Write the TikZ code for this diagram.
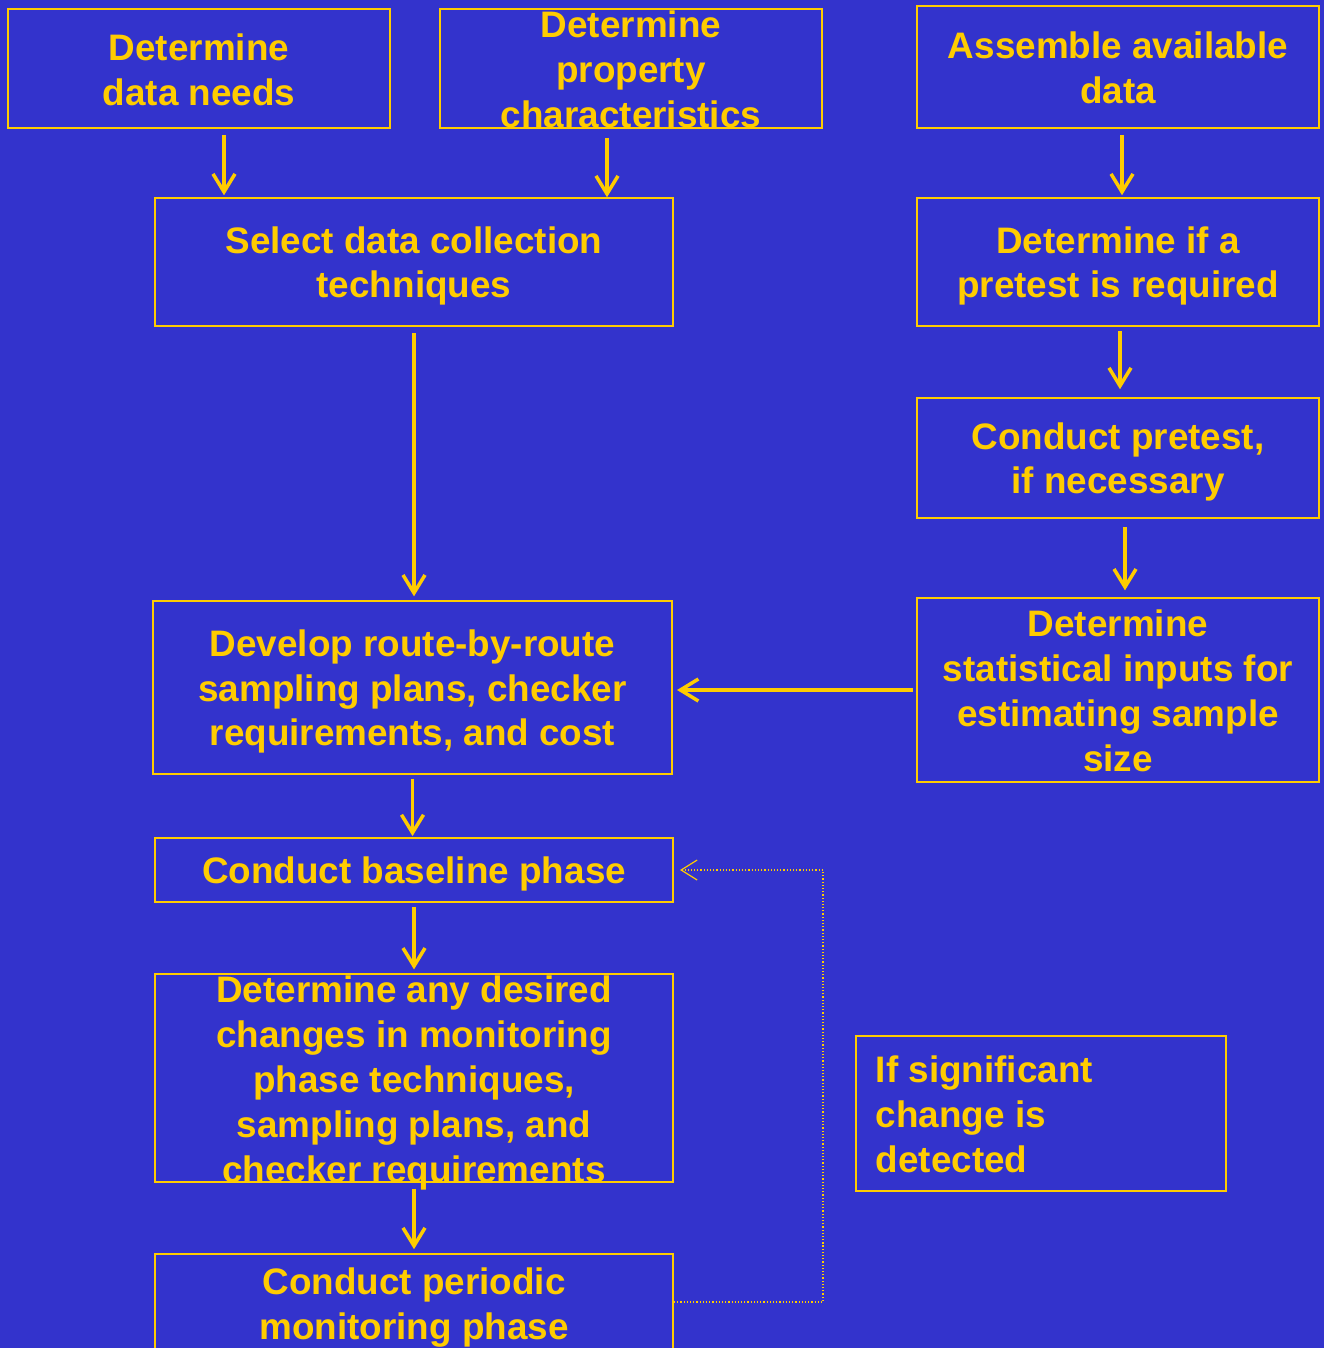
\documentclass[tikz,border=0pt]{standalone}
\usepackage{fontspec}
\setmainfont{Liberation Sans}
\usetikzlibrary{arrows.meta}
\definecolor{bgblue}{HTML}{3333CC}
\definecolor{flowyellow}{HTML}{FFCC00}

\tikzset{
  box/.style={draw=flowyellow, line width=2bp, inner sep=0pt},
  txt/.style={text=flowyellow, align=center, inner sep=0pt,
    font=\fontsize{37}{45}\selectfont\bfseries},
  arr/.style={draw=flowyellow, line width=3.5bp,
    -{Straight Barb[length=18bp, width=22bp]}},
  loopback/.style={draw=flowyellow, line width=1.2bp, dotted,
    -{Straight Barb[length=16bp, width=20bp, line width=1.2bp]}},
}

\begin{document}
\begin{tikzpicture}[x=1bp, y=-1bp]
  \fill[bgblue] (0,0) rectangle (1324,1348);
  \useasboundingbox (0,0) rectangle (1324,1348);
  % left column
  \node[box, minimum width=384, minimum height=119] (needs) at (199,68.5) {};
  \node[txt] (needs-t) at ([yshift=-1bp]needs) {Determine\\data needs};
  \node[box, minimum width=384, minimum height=119] (property) at (631,68.5) {};
  \node[txt] (property-t) at ([yshift=-1bp]property) {Determine\\property\\characteristics};
  \node[box, minimum width=520, minimum height=128] (select) at (414,262) {};
  \node[txt] (select-t) at ([yshift=-4bp]select) {Select data collection\\techniques};
  \node[box, minimum width=521, minimum height=173] (develop) at (412.5,687.5) {};
  \node[txt] (develop-t) at ([yshift=-4bp]develop) {Develop route-by-route\\sampling plans, checker\\requirements, and cost};
  \node[box, minimum width=520, minimum height=64] (baseline) at (414,870) {};
  \node[txt] (baseline-t) at ([yshift=-4bp]baseline) {Conduct baseline phase};
  \node[box, minimum width=520, minimum height=208] (changes) at (414,1078) {};
  \node[txt] (changes-t) at ([yshift=-5bp]changes) {Determine any desired\\changes in monitoring\\phase techniques,\\sampling plans, and\\checker requirements};
  \node[box, minimum width=520, minimum height=106] (periodic) at (414,1307) {};
  \node[txt] (periodic-t) at ([yshift=-0.5bp]periodic) {Conduct periodic\\monitoring phase};
  % right column
  \node[box, minimum width=404, minimum height=122] (assemble) at (1118,67) {};
  \node[txt] (assemble-t) at ([yshift=-1bp]assemble) {Assemble available\\data};
  \node[box, minimum width=404, minimum height=128] (pretestq) at (1118,262) {};
  \node[txt] (pretestq-t) at ([yshift=-4bp]pretestq) {Determine if a\\pretest is required};
  \node[box, minimum width=404, minimum height=120] (pretest) at (1118,458) {};
  \node[txt] (pretest-t) at ([yshift=-4bp]pretest) {Conduct pretest,\\if necessary};
  \node[box, minimum width=404, minimum height=184] (stats) at (1118,690) {};
  \node[txt] (stats-t) at ([yshift=-1bp]stats) {Determine\\statistical inputs for\\estimating sample\\size};
  \node[box, minimum width=372, minimum height=155] (ifsig) at (1041,1113.5) {};
  \node[txt, align=left, anchor=west] (ifsig-t) at ([xshift=21bp, yshift=-1bp]ifsig.west) {If significant\\change is\\detected};
  % connectors
  \draw[arr, shorten <=6bp, shorten >=2bp] ([xshift=25bp]needs.south) -- ([xshift=25bp]needs.south |- select.north);
  \draw[arr, shorten <=9bp] ([xshift=-24bp]property.south) -- ([xshift=-24bp]property.south |- select.north);
  \draw[arr, shorten <=6bp, shorten >=4bp] (select.south) -- (select.south |- develop.north);
  \draw[arr, shorten <=4bp, shorten >=1bp] (develop.south) -- (develop.south |- baseline.north);
  \draw[arr, shorten <=4bp, shorten >=4bp] (baseline.south) -- (changes.north);
  \draw[arr, shorten <=6bp, shorten >=4bp] (changes.south) -- (periodic.north);
  \draw[arr, shorten <=6bp, shorten >=2bp] ([xshift=4bp]assemble.south) -- ([xshift=4bp]pretestq.north);
  \draw[arr, shorten <=4bp, shorten >=8bp] ([xshift=2bp]pretestq.south) -- ([xshift=2bp]pretest.north);
  \draw[arr, shorten <=8bp, shorten >=7bp] ([xshift=7bp]pretest.south) -- ([xshift=7bp]stats.north);
  \draw[arr, shorten <=3bp, shorten >=4bp] (stats.west) -- (stats.west -| develop.east);
  \draw[loopback, shorten >=6bp] ([yshift=5bp]periodic.east) -- ++(149,0) |- (baseline.east);
\end{tikzpicture}
\end{document}
